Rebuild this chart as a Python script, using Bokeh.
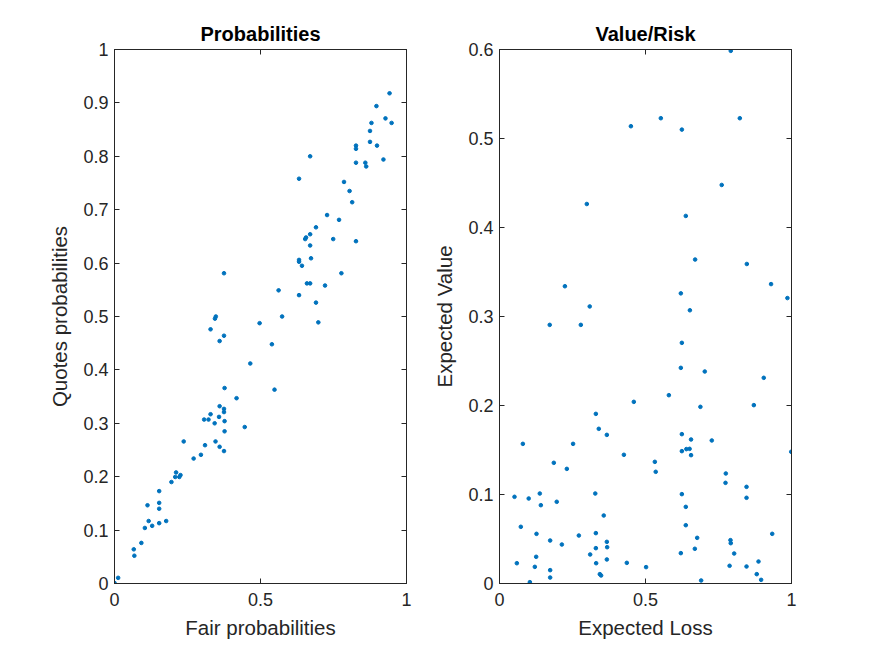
from bokeh.plotting import figure
from bokeh.layouts import row
from bokeh.models import Range1d, FixedTicker, PrintfTickFormatter, LinearAxis, CustomJSTickFormatter
from bokeh.embed import file_html
from bokeh.resources import INLINE

# ---- data: left panel (Probabilities) ----
fair_prob = [0.942, 0.897, 0.928, 0.949, 0.880, 0.875, 0.875, 0.827, 0.899, 0.827,
             0.670, 0.827, 0.859, 0.862, 0.921, 0.632, 0.786, 0.805, 0.814, 0.728,
             0.769, 0.690, 0.670, 0.656, 0.653, 0.749, 0.827, 0.670, 0.632, 0.632,
             0.673, 0.642, 0.375, 0.777, 0.562, 0.659, 0.670, 0.721, 0.632, 0.690,
             0.574, 0.347, 0.344, 0.698, 0.497, 0.329, 0.375, 0.360, 0.539, 0.465,
             0.377, 0.548, 0.418, 0.360, 0.329, 0.375, 0.375, 0.358, 0.307, 0.322,
             0.377, 0.343, 0.446, 0.377, 0.237, 0.346, 0.310, 0.360, 0.375, 0.296,
             0.271, 0.211, 0.226, 0.208, 0.222, 0.195, 0.153, 0.153, 0.113, 0.153,
             0.117, 0.177, 0.153, 0.129, 0.104, 0.092, 0.066, 0.068, 0.0125, 0.0]
quote_prob = [0.918, 0.894, 0.871, 0.8625, 0.8625, 0.8475, 0.827, 0.820, 0.820, 0.814,
              0.800, 0.788, 0.788, 0.781, 0.794, 0.758, 0.752, 0.735, 0.714, 0.690,
              0.681, 0.667, 0.654, 0.648, 0.645, 0.645, 0.641, 0.633, 0.606, 0.6025,
              0.609, 0.595, 0.581, 0.581, 0.549, 0.562, 0.562, 0.558, 0.540, 0.526,
              0.500, 0.500, 0.496, 0.489, 0.4875, 0.476, 0.464, 0.454, 0.448, 0.412,
              0.366, 0.363, 0.347, 0.332, 0.317, 0.327, 0.321, 0.312, 0.307, 0.307,
              0.304, 0.300, 0.293, 0.285, 0.266, 0.266, 0.259, 0.256, 0.248, 0.241,
              0.234, 0.208, 0.203, 0.1995, 0.1995, 0.190, 0.173, 0.151, 0.1465, 0.140,
              0.117, 0.117, 0.113, 0.108, 0.104, 0.076, 0.064, 0.052, 0.0106, 0.001]

# ---- data: right panel (Value/Risk) ----
exp_loss = [0.792, 0.5525, 0.823, 0.450, 0.6245, 0.761, 0.299, 0.638, 0.670, 0.847,
            0.224, 0.930, 0.986, 0.621, 0.309, 0.652,
            0.172, 0.2785, 0.6245, 0.621, 0.703, 0.905, 0.580, 0.460, 0.688, 0.871,
            0.330, 0.340, 0.3676, 0.080, 0.252, 0.6245, 0.656, 0.727, 0.640, 0.651,
            0.6245, 0.656, 0.426, 0.999, 0.186, 0.532, 0.535, 0.2306, 0.775, 0.774,
            0.846, 0.0514, 0.100, 0.138, 0.328, 0.6245, 0.196, 0.1416, 0.846, 0.638,
            0.357, 0.638, 0.073, 0.1267, 0.2717, 0.330, 0.934, 0.1735, 0.2135, 0.3676,
            0.3687, 0.330, 0.677, 0.791, 0.792, 0.669, 0.621, 0.3105, 0.8037, 0.1256,
            0.0594, 0.331, 0.3676, 0.436, 0.887, 0.121, 0.502, 0.788, 0.846, 0.1735,
            0.3436, 0.348, 0.881, 0.1735, 0.896, 0.6906, 0.104]
exp_value = [0.5985, 0.5228, 0.5228, 0.5138, 0.510, 0.4478, 0.4264, 0.413, 0.364, 0.359,
             0.334, 0.3364, 0.3207, 0.326, 0.3113, 0.307,
             0.2906, 0.2906, 0.2704, 0.2423, 0.2382, 0.2311, 0.2116, 0.2041, 0.1985, 0.2004,
             0.1906, 0.1738, 0.167, 0.1569, 0.1569, 0.1678, 0.1618, 0.1607, 0.151, 0.1513,
             0.1487, 0.1442, 0.1446, 0.148, 0.1356, 0.1367, 0.1255, 0.1288, 0.1236, 0.1131,
             0.1086, 0.0974, 0.0955, 0.1011, 0.1011, 0.1004, 0.0918, 0.088, 0.0963, 0.0861,
             0.0764, 0.0655, 0.0637, 0.0558, 0.0539, 0.0566, 0.0558, 0.0483, 0.0438, 0.0468,
             0.0408, 0.0397, 0.0513, 0.0487, 0.0453, 0.039, 0.0341, 0.0326, 0.0337, 0.030,
             0.0228, 0.0228, 0.027, 0.0232, 0.0247, 0.0187, 0.0184, 0.0199, 0.0191, 0.015,
             0.0105, 0.009, 0.0105, 0.0067, 0.0041, 0.0034, 0.0015]

# ---- tick positions ----
x_ticks = [0, 0.5, 1]
left_y_ticks = [0, 0.1, 0.2, 0.3, 0.4, 0.5, 0.6, 0.7, 0.8, 0.9, 1]
right_y_ticks = [0, 0.1, 0.2, 0.3, 0.4, 0.5, 0.6]

FONT = "Liberation Sans"
AX = "#262626"
DOT = "#0072BD"


def style_axis(ax, ticks, show_labels=True):
    ax.ticker = FixedTicker(ticks=ticks)
    ax.major_tick_in = 5
    ax.major_tick_out = 0
    ax.minor_tick_line_color = None
    ax.axis_line_color = AX
    ax.major_tick_line_color = AX
    ax.major_label_text_font = FONT
    ax.major_label_text_font_size = "18px"
    ax.major_label_text_color = AX
    ax.axis_label_text_font = FONT
    ax.axis_label_text_font_size = "20.5px"
    ax.axis_label_text_font_style = "normal"
    ax.axis_label_text_color = AX
    if show_labels:
        ax.formatter = PrintfTickFormatter(format="%g")
    else:
        ax.formatter = CustomJSTickFormatter(code="return ''")
        ax.major_label_standoff = 0


def make_fig(title, xs, ys, ymax, yticks, xlabel, ylabel, left_border, right_border):
    p = figure(frame_width=292, frame_height=534, output_backend="svg",
               toolbar_location=None, x_range=Range1d(0, 1), y_range=Range1d(0, ymax),
               min_border_left=left_border, min_border_right=right_border,
               min_border_top=49, min_border_bottom=73,
               x_axis_label=xlabel, y_axis_label=ylabel)
    p.title.text = title
    p.title.align = "center"
    p.title.text_font = FONT
    p.title.text_font_size = "20px"
    p.title.text_font_style = "bold"
    p.title.text_color = "#000000"
    p.grid.visible = False
    p.outline_line_color = AX
    p.outline_line_alpha = 1
    p.background_fill_color = "white"
    p.border_fill_color = "white"
    style_axis(p.xaxis[0], x_ticks)
    style_axis(p.yaxis[0], yticks)
    p.xaxis[0].major_label_standoff = 9
    p.yaxis[0].major_label_standoff = 6
    p.xaxis[0].axis_label_standoff = 7
    p.yaxis[0].axis_label_standoff = 9
    top = LinearAxis()
    style_axis(top, x_ticks, show_labels=False)
    p.add_layout(top, "above")
    right = LinearAxis()
    style_axis(right, yticks, show_labels=False)
    p.add_layout(right, "right")
    p.scatter(xs, ys, size=3.6, marker="circle", color=DOT, line_color=DOT)
    return p


p1 = make_fig("Probabilities", fair_prob, quote_prob, 1, left_y_ticks,
              "Fair probabilities", "Quotes probabilities", 114, 10)
p2 = make_fig("Value/Risk", exp_loss, exp_value, 0.6, right_y_ticks,
              "Expected Loss", "Expected Value", 83, 40)

layout = row(p1, p2)
open("out.html", "w").write(file_html(layout, INLINE))
